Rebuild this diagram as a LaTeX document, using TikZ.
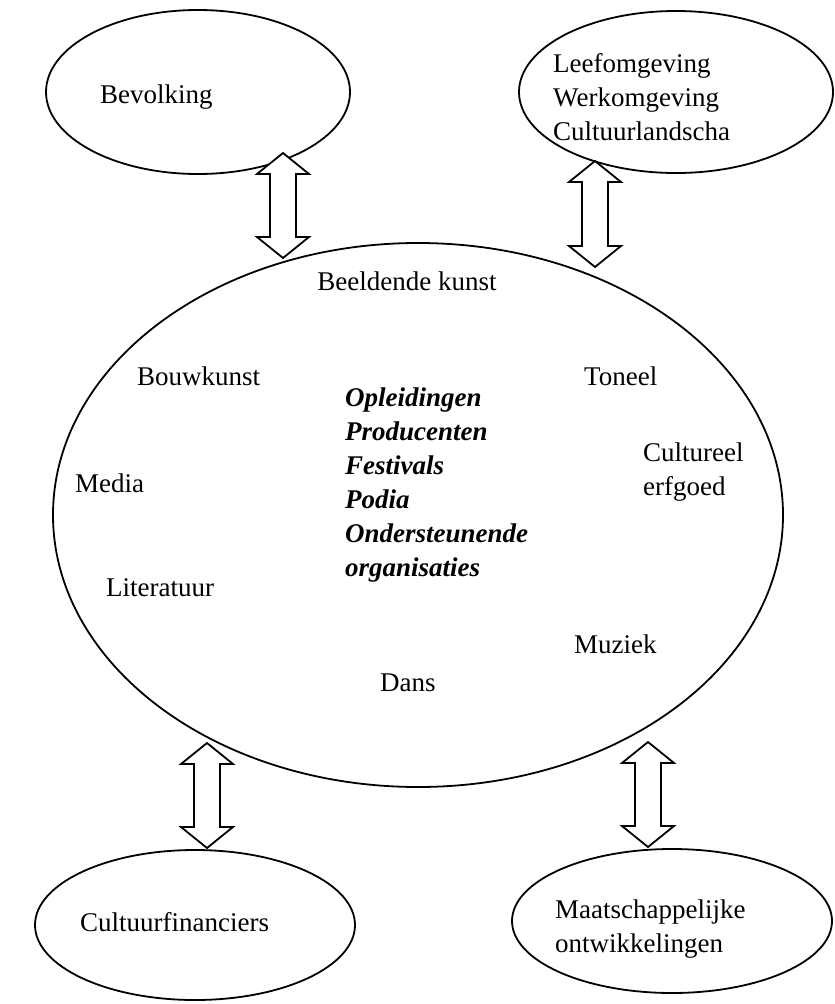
\documentclass[tikz,border=0pt]{standalone}
\usepackage{fontspec}
\setmainfont{Liberation Serif}
\usetikzlibrary{shapes.geometric,calc}
\tikzset{
  oval/.style={draw, ellipse, line width=1.8pt, inner sep=0pt},
  lbl/.style={anchor=west, inner sep=0pt, font=\fontsize{27}{34}\selectfont, align=left},
  mid/.style={inner sep=0pt, font=\fontsize{27}{34}\selectfont},
  blockarrow/.style={draw, line width=1.8pt, line join=miter, fill=white},
}
\newcommand\dblarr[2]{%
  \draw[blockarrow] let \p1=(#1), \p2=(#2) in
    (\x1,\y1) -- ({\x1+26pt},{\y1-21pt}) -- ({\x1+13pt},{\y1-21pt})
    -- ({\x1+13pt},{\y2+21pt}) -- ({\x1+26pt},{\y2+21pt}) -- (\x2,\y2)
    -- ({\x1-26pt},{\y2+21pt}) -- ({\x1-13pt},{\y2+21pt})
    -- ({\x1-13pt},{\y1-21pt}) -- ({\x1-26pt},{\y1-21pt}) -- cycle;}
\begin{document}
\begin{tikzpicture}[x=1pt,y=-1pt]
\useasboundingbox[fill=white] (0,0) rectangle (835,1004);
% ellipses
\node[oval, minimum width=304pt, minimum height=164pt] (bev) at (198,92) {};
\node[oval, minimum width=314pt, minimum height=162pt] (leef) at (676,92) {};
\node[oval, minimum width=730pt, minimum height=544pt] (main) at (418,515) {};
\node[oval, minimum width=320pt, minimum height=150pt] (fin) at (195,925) {};
\node[oval, minimum width=320pt, minimum height=144pt] (maat) at (672,921) {};
% outer texts
\node[lbl] (tbev) at (100,97) {Bevolking};
\node[lbl] (tleef) at (553,97) {Leefomgeving\\Werkomgeving\\Cultuurlandscha};
\node[lbl] (tfin) at (80,922) {Cultuurfinanciers};
\node[lbl] (tmaat) at (555,929) {Maatschappelijke\\ontwikkelingen};
% inner texts
\node[mid] (beeld) at (407,281) {Beeldende kunst};
\node[lbl] (bouw) at (137,376) {Bouwkunst};
\node[lbl] (toneel) at (584,376) {Toneel};
\node[lbl, font=\fontsize{27}{34}\selectfont\bfseries\itshape] (lijst) at (345,485)
  {Opleidingen\\Producenten\\Festivals\\Podia\\Ondersteunende\\organisaties};
\node[lbl] (media) at (75,483) {Media};
\node[lbl] (erf) at (643,472) {Cultureel\\erfgoed};
\node[lbl] (lit) at (106,588) {Literatuur};
\node[lbl] (muz) at (574,644) {Muziek};
\node[lbl] (dans) at (380,683) {Dans};
% arrow end points
\coordinate (a1t) at (283,153); \coordinate (a1b) at (283,258);
\coordinate (a2t) at (595,161); \coordinate (a2b) at (595,267);
\coordinate (a3t) at (207,743); \coordinate (a3b) at (207,848);
\coordinate (a4t) at (648,742); \coordinate (a4b) at (648,847);
\dblarr{a1t}{a1b}
\dblarr{a2t}{a2b}
\dblarr{a3t}{a3b}
\dblarr{a4t}{a4b}
\end{tikzpicture}
\end{document}
